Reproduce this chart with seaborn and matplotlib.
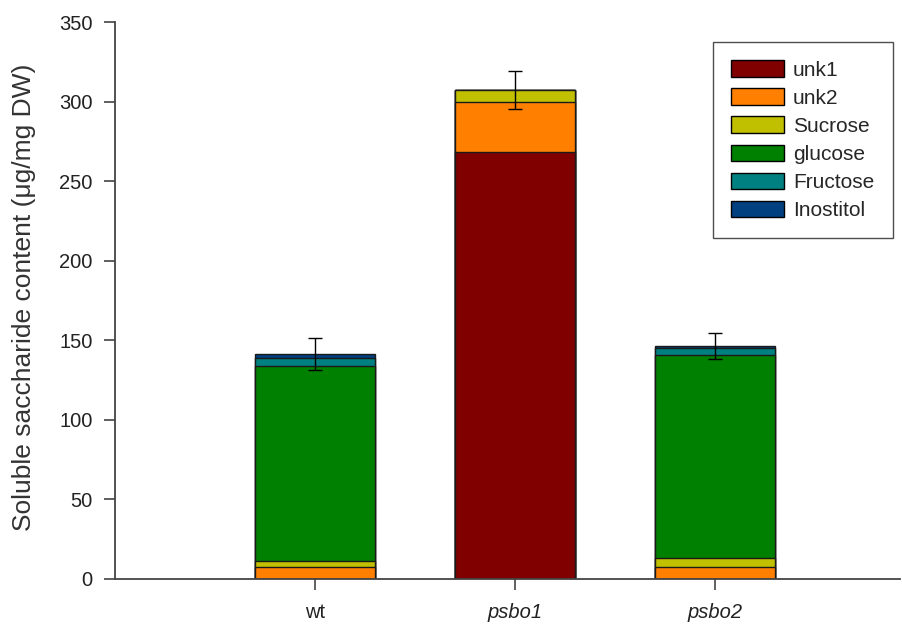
import numpy as np
import pandas as pd
import matplotlib
matplotlib.use("Agg")
import matplotlib.pyplot as plt
import seaborn as sns
from matplotlib.patches import Patch

lines = ["wt", "psbo1", "psbo2"]
components = ["unk1", "unk2", "Sucrose", "glucose", "Fructose", "Inostitol"]
unk1 = [0.0, 268.6, 0.0]
unk2 = [7.5, 31.4, 7.5]
sucrose = [4.0, 7.4, 6.0]
glucose = [122.5, 0.0, 127.2]
fructose = [4.8, 0.0, 4.6]
inostitol = [2.7, 0.0, 1.0]
errors = [10.0, 12.0, 8.0]
colors = ["#800000", "#FF8000", "#C0C000", "#008000", "#008080", "#004080"]

sns.set_theme(style="white")
plt.rcParams["font.family"] = ["Liberation Sans", "DejaVu Sans"]

layers = np.array([unk1, unk2, sucrose, glucose, fructose, inostitol])
cumulative = np.cumsum(layers, axis=0)

fig = plt.figure(figsize=(9.02, 6.25), dpi=100)
ax = fig.add_axes([0.1275, 0.0736, 0.8705, 0.8912])

# draw cumulative stacks from the top layer downwards so each overlay shows its own segment
for i in range(len(components) - 1, -1, -1):
    df = pd.DataFrame({"line": lines, "value": cumulative[i]})
    sns.barplot(data=df, x="line", y="value", order=lines, color=colors[i],
                width=0.6, edgecolor="#1a1a1a", linewidth=1.0, saturation=1,
                errorbar=None, ax=ax, zorder=2 + (len(components) - i) * 0.01)

totals = cumulative[-1]
ax.errorbar(np.arange(len(lines)), totals, yerr=errors, fmt="none",
            ecolor="black", elinewidth=1.0, capsize=5, capthick=1.0, zorder=5)

ax.set_xlim(-1.0, 2.925)
ax.set_ylim(0, 350)
ax.set_yticks(np.arange(0, 351, 50))
ax.set_xlabel("")
ax.set_ylabel("Soluble saccharide content (\u03bcg/mg DW)", fontsize=19, color="#333333")
ax.yaxis.set_label_coords(-0.100, 0.505)
ax.set_xticks(range(len(lines)))
ax.set_xticklabels(lines)
for lbl in ax.get_xticklabels()[1:]:
    lbl.set_style("italic")
ax.tick_params(axis="both", which="both", direction="out", length=8, width=1.2,
               color="#444444", labelsize=14.5, labelcolor="#222222",
               left=True, bottom=True)
ax.tick_params(axis="y", pad=8)
ax.tick_params(axis="x", pad=9)

for side in ["top", "right"]:
    ax.spines[side].set_visible(False)
for side in ["left", "bottom"]:
    ax.spines[side].set_color("#444444")
    ax.spines[side].set_linewidth(1.3)

handles = [Patch(facecolor=c, edgecolor="black", linewidth=1.0, label=n)
           for c, n in zip(colors, components)]
leg = ax.legend(handles=handles, loc="upper left", bbox_to_anchor=(0.7618, 0.9641),
                frameon=True, fancybox=False, fontsize=15, handlelength=2.5,
                handleheight=0.85, labelspacing=0.41, borderpad=0.88,
                handletextpad=0.45, borderaxespad=0)
leg.get_frame().set_edgecolor("#222222")
leg.get_frame().set_linewidth(1.0)

fig.savefig("out.png", dpi=100)
